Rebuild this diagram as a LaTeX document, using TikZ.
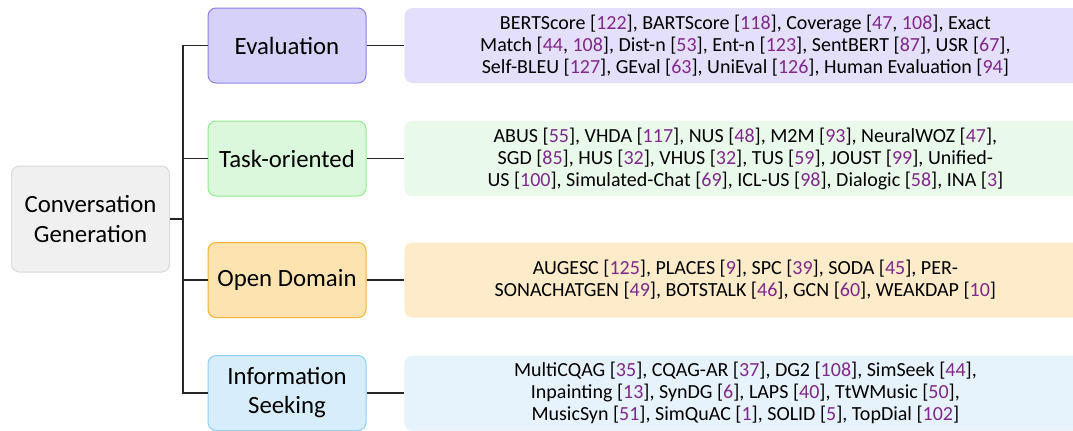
\documentclass[tikz,border=0pt]{standalone}
\usepackage{fontspec}
\setmainfont{Carlito}
\definecolor{citec}{RGB}{128,40,140}
\definecolor{rootfill}{HTML}{F0F0F0}\definecolor{rootdraw}{HTML}{DADADA}
\definecolor{evalfill}{HTML}{D6D1F8}\definecolor{evaldraw}{HTML}{8B7FEF}\definecolor{evalleaf}{HTML}{E4E0FB}
\definecolor{taskfill}{HTML}{DCF8DC}\definecolor{taskdraw}{HTML}{90EB90}\definecolor{taskleaf}{HTML}{EAFAEA}
\definecolor{openfill}{HTML}{FDE3AF}\definecolor{opendraw}{HTML}{F8B133}\definecolor{openleaf}{HTML}{FEEBC9}
\definecolor{infofill}{HTML}{D8EDFB}\definecolor{infodraw}{HTML}{8ED0F5}\definecolor{infoleaf}{HTML}{E6F3FC}
\newcommand\rf[1]{{\color{citec}#1}}
\begin{document}
\begin{tikzpicture}[x=1pt,y=1pt,
  catbox/.style={rounded corners=4pt,line width=0.5pt,minimum width=79pt,minimum height=37.5pt,align=center,font=\fontsize{12.4}{14.5}\selectfont},
  leafbox/.style={rounded corners=4pt,anchor=west,minimum width=341pt,minimum height=37.5pt,align=center,font=\fontsize{10}{11}\selectfont},
  link/.style={line width=0.6pt,color=black!85}]
\clip (0,0) rectangle (536.5,-215);
\node[catbox,fill=rootfill,draw=rootdraw,minimum height=53pt,font=\fontsize{12.4}{15}\selectfont] (root) at (45.25,-109.5) {Conversation\\Generation};
\node[catbox,fill=evalfill,draw=evaldraw] (eval) at (143.5,-22.75) {Evaluation};
\node[catbox,fill=taskfill,draw=taskdraw] (task) at (143.5,-79.25) {Task-oriented};
\node[catbox,fill=openfill,draw=opendraw] (open) at (143.5,-140) {Open Domain};
\node[catbox,fill=infofill,draw=infodraw] (info) at (143.5,-196.5) {Information\\Seeking};
\node[leafbox,fill=evalleaf] (evalleaf) at (202,-22.75) {BERTScore [\rf{122}], BARTScore [\rf{118}], Coverage [\rf{47}, \rf{108}], Exact\\Match [\rf{44}, \rf{108}], Dist-n [\rf{53}], Ent-n [\rf{123}], SentBERT [\rf{87}], USR [\rf{67}],\\Self-BLEU [\rf{127}], GEval [\rf{63}], UniEval [\rf{126}], Human Evaluation [\rf{94}]};
\node[leafbox,fill=taskleaf] (taskleaf) at (202,-79.25) {ABUS [\rf{55}], VHDA [\rf{117}], NUS [\rf{48}], M2M [\rf{93}], NeuralWOZ [\rf{47}],\\SGD [\rf{85}], HUS [\rf{32}], VHUS [\rf{32}], TUS [\rf{59}], JOUST [\rf{99}], Unified-\\US [\rf{100}], Simulated-Chat [\rf{69}], ICL-US [\rf{98}], Dialogic [\rf{58}], INA [\rf{3}]};
\node[leafbox,fill=openleaf] (openleaf) at (202,-140) {AUGESC [\rf{125}], PLACES [\rf{9}], SPC [\rf{39}], SODA [\rf{45}], PER-\\SONACHATGEN [\rf{49}], BOTSTALK [\rf{46}], GCN [\rf{60}], WEAKDAP [\rf{10}]};
\node[leafbox,fill=infoleaf] (infoleaf) at (202,-196.5) {MultiCQAG [\rf{35}], CQAG-AR [\rf{37}], DG2 [\rf{108}], SimSeek [\rf{44}],\\Inpainting [\rf{13}], SynDG [\rf{6}], LAPS [\rf{40}], TtWMusic [\rf{50}],\\MusicSyn [\rf{51}], SimQuAC [\rf{1}], SOLID [\rf{5}], TopDial [\rf{102}]};
\draw[link] (root.east) -- ++(6.5,0) coordinate (trunk);
\foreach \c in {eval,task,open,info} {
  \draw[link] (trunk) |- (\c.west);
  \draw[link] (\c.east) -- (\c leaf.west);
}
\end{tikzpicture}
\end{document}
